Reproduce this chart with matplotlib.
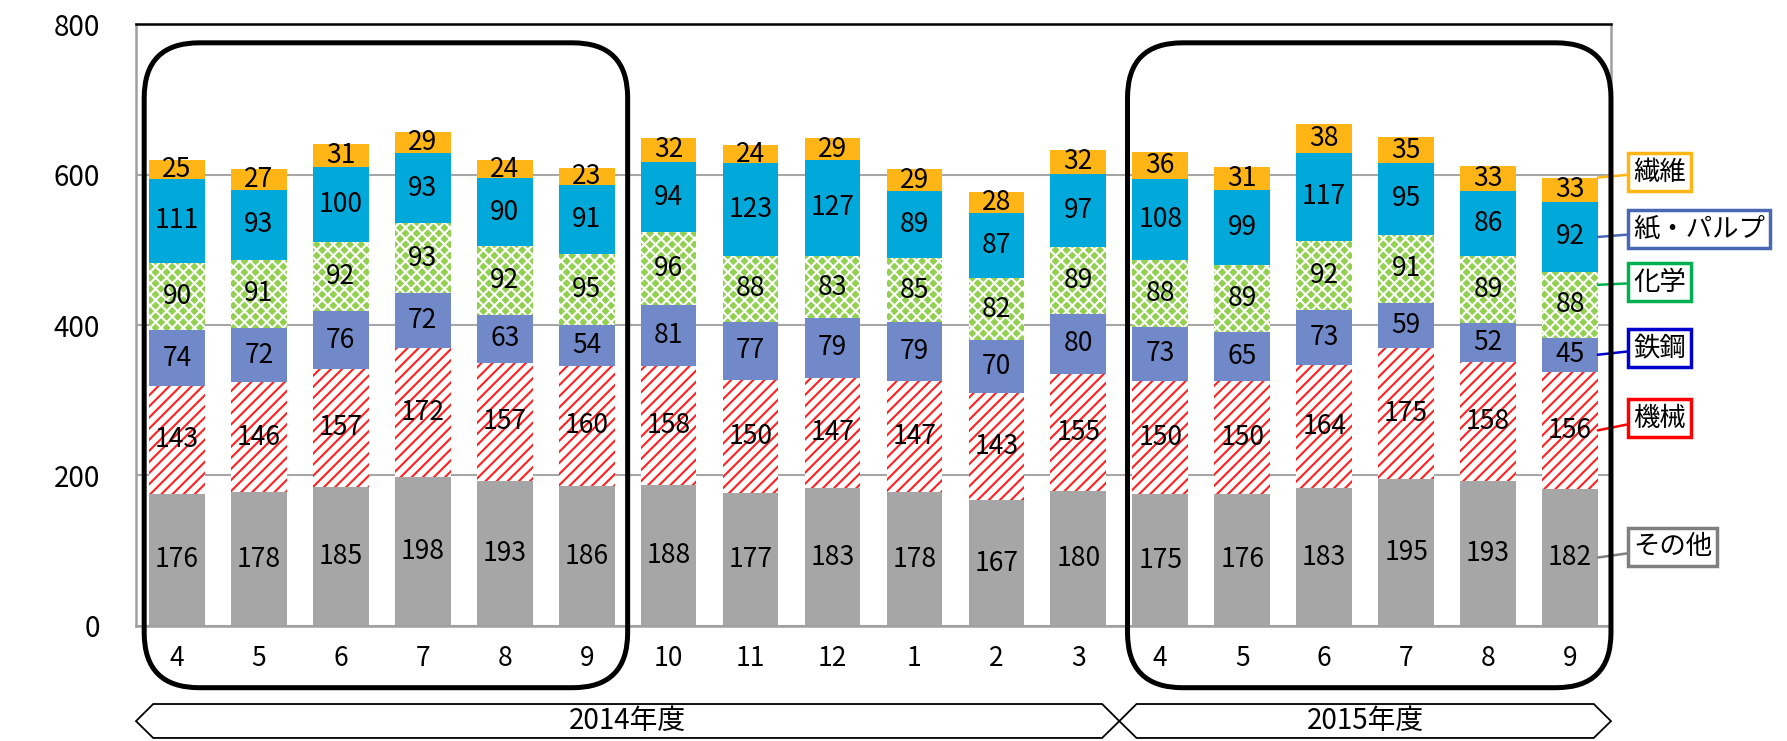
import matplotlib.pyplot as plt
import numpy as np
from matplotlib.patches import FancyBboxPatch, Polygon
from matplotlib.transforms import IdentityTransform, blended_transform_factory

plt.rcParams['font.family'] = ['Noto Sans CJK JP', 'DejaVu Sans']
plt.rcParams['hatch.linewidth'] = 1.5

months = ['4', '5', '6', '7', '8', '9', '10', '11', '12', '1', '2', '3',
          '4', '5', '6', '7', '8', '9']

# series from bottom to top
names = ['その他', '機械', '鉄鋼', '化学', '紙・パルプ', '繊維']
sonota = [176, 178, 185, 198, 193, 186, 188, 177, 183, 178, 167, 180, 175, 176, 183, 195, 193, 182]
kikai = [143, 146, 157, 172, 157, 160, 158, 150, 147, 147, 143, 155, 150, 150, 164, 175, 158, 156]
tekko = [74, 72, 76, 72, 63, 54, 81, 77, 79, 79, 70, 80, 73, 65, 73, 59, 52, 45]
kagaku = [90, 91, 92, 93, 92, 95, 96, 88, 83, 85, 82, 89, 88, 89, 92, 91, 89, 88]
kami = [111, 93, 100, 93, 90, 91, 94, 123, 127, 89, 87, 97, 108, 99, 117, 95, 86, 92]
seni = [25, 27, 31, 29, 24, 23, 32, 24, 29, 29, 28, 32, 36, 31, 38, 35, 33, 33]
series = [sonota, kikai, tekko, kagaku, kami, seni]

years = ['2014年度', '2015年度']
year_ranges = [(0, 11), (12, 17)]
boxed = [(0, 5), (12, 17)]

face = ['#A6A6A6', 'white', '#7189C8', '#92D050', '#00A9DA', '#FFB515']
hatch_col = ['#A6A6A6', '#FF2020', '#7189C8', 'white', '#00A9DA', '#FFB515']
hatches = [None, '///', None, 'xxx', None, None]
label_col = ['#7F7F7F', '#FF0000', '#0000CC', '#00B050', '#4A67B5', '#FFB515']
label_y = [194, 323, 393, 459, 512, 569]   # figure pixels
anchor_frac = [0.5, 0.5, 0.5, 0.8, 0.5, 1.0]

fig = plt.figure(figsize=(17.87, 7.41), dpi=100)
ax = fig.add_axes([0.0761, 0.1552, 0.8254, 0.8124])

x = np.arange(len(months))
width = 0.68
bottom = np.zeros(len(months))
for i, vals in enumerate(series):
    vals = np.array(vals)
    ax.bar(x, vals, width, bottom=bottom, color=face[i], edgecolor=hatch_col[i],
           linewidth=0, hatch=hatches[i], zorder=2)
    for xi, b, v in zip(x, bottom, vals):
        ax.text(xi, b + v / 2, str(v), ha='center', va='center', fontsize=19, zorder=3)
    # leader line and label at the right
    ax.annotate(names[i], xy=(x[-1] + width / 2, bottom[-1] + vals[-1] * anchor_frac[i]),
                xycoords='data', xytext=(1633, label_y[i]), textcoords='figure pixels',
                ha='left', va='center', fontsize=19,
                bbox=dict(boxstyle='square,pad=0.2', fc='white', ec=label_col[i], lw=2.5),
                arrowprops=dict(arrowstyle='-', color=label_col[i], lw=1.8,
                                shrinkA=0, shrinkB=0),
                annotation_clip=False, zorder=5)
    bottom = bottom + vals

ax.set_xlim(-0.5, 17.5)
ax.set_ylim(0, 800)
ax.set_yticks(np.arange(0, 801, 200))
ax.set_xticks(x)
ax.set_xticklabels(months)
ax.tick_params(axis='y', length=0, pad=26, labelsize=20)
ax.tick_params(axis='x', length=0, pad=14, labelsize=19)
ax.yaxis.grid(True, color='#A6A6A6', lw=1.5)
ax.set_axisbelow(True)
for s in ['left', 'bottom', 'right']:
    ax.spines[s].set_color('#A0A0A0')
    ax.spines[s].set_linewidth(1.8)
ax.spines['top'].set_color('black')
ax.spines['top'].set_linewidth(1.8)

# rounded boxes around the half years
for i0, i1 in boxed:
    (px0, py0) = ax.transData.transform((i0 - 0.4, -82))
    (px1, py1) = ax.transData.transform((i1 + 0.5, 775))
    box = FancyBboxPatch((px0, py0), px1 - px0, py1 - py0,
                         boxstyle='round,pad=0,rounding_size=55',
                         transform=IdentityTransform(), fc='none', ec='black', lw=3.6,
                         zorder=6)
    fig.add_artist(box)

# fiscal year banners
tr = blended_transform_factory(ax.transData, ax.transAxes)
yt, ym, yb = -0.1296, -0.158, -0.186
for name, (i0, i1) in zip(years, year_ranges):
    x0, x1 = i0 - 0.5, i1 + 0.5
    d = 0.21
    verts = [(x0, ym), (x0 + d, yt), (x1 - d, yt), (x1, ym), (x1 - d, yb), (x0 + d, yb)]
    ax.add_patch(Polygon(verts, closed=True, fc='white', ec='black', lw=1.3,
                         transform=tr, clip_on=False))
    ax.text((x0 + x1) / 2, ym, name, transform=tr, ha='center', va='center', fontsize=20)

fig.savefig('out.png', dpi=100)
